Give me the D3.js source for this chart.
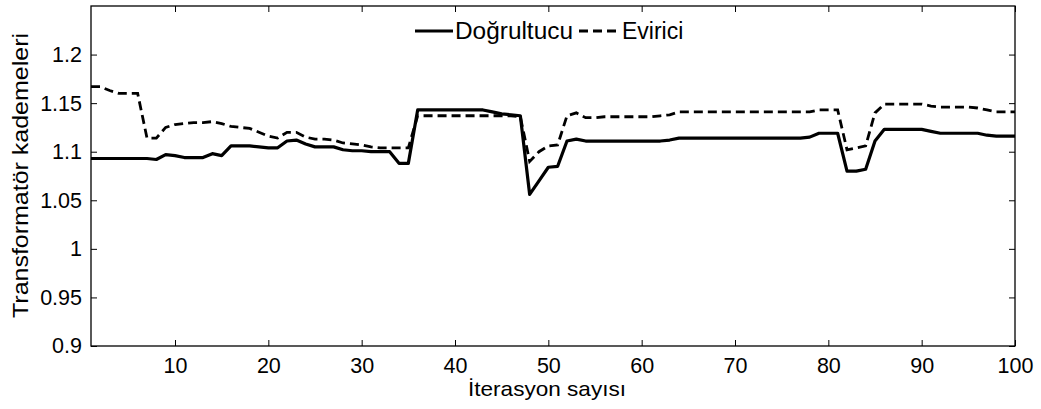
<!DOCTYPE html>
<html><head><meta charset="utf-8">
<script src="https://cdn.jsdelivr.net/npm/d3@7"></script>
<style>
html,body{margin:0;padding:0;background:#fff;}
svg text{font-family:"Liberation Sans",Arial,sans-serif;fill:#000;}
</style></head>
<body><svg id="c" width="1041" height="409"></svg>
<script>
const iterations = d3.range(1, 101);
const dogrultucu = [
1.093,1.093,1.093,1.093,1.093,1.093,1.093,1.092,1.097,1.096,
1.094,1.094,1.094,1.098,1.096,1.106,1.106,1.106,1.105,1.104,
1.104,1.111,1.112,1.108,1.105,1.105,1.105,1.102,1.101,1.101,
1.100,1.100,1.100,1.088,1.088,1.143,1.143,1.143,1.143,1.143,
1.143,1.143,1.143,1.141,1.139,1.138,1.137,1.056,1.070,1.084,
1.085,1.111,1.113,1.111,1.111,1.111,1.111,1.111,1.111,1.111,
1.111,1.111,1.112,1.114,1.114,1.114,1.114,1.114,1.114,1.114,
1.114,1.114,1.114,1.114,1.114,1.114,1.114,1.115,1.119,1.119,
1.119,1.080,1.080,1.082,1.111,1.123,1.123,1.123,1.123,1.123,
1.121,1.119,1.119,1.119,1.119,1.119,1.117,1.116,1.116,1.116];
const evirici = [
1.167,1.167,1.163,1.160,1.160,1.160,1.114,1.114,1.125,1.128,
1.129,1.130,1.130,1.131,1.129,1.126,1.125,1.124,1.120,1.116,
1.114,1.120,1.120,1.115,1.113,1.113,1.112,1.109,1.108,1.107,
1.105,1.104,1.104,1.104,1.104,1.137,1.137,1.137,1.137,1.137,
1.137,1.137,1.137,1.137,1.137,1.137,1.136,1.090,1.100,1.106,
1.107,1.137,1.140,1.135,1.135,1.136,1.136,1.136,1.136,1.136,
1.136,1.137,1.138,1.141,1.141,1.141,1.141,1.141,1.141,1.141,
1.141,1.141,1.141,1.141,1.141,1.141,1.141,1.141,1.143,1.143,
1.143,1.102,1.104,1.106,1.140,1.149,1.149,1.149,1.149,1.149,
1.147,1.146,1.146,1.146,1.146,1.145,1.143,1.141,1.141,1.141];
const xTicks = [10,20,30,40,50,60,70,80,90,100];
const yTicks = [0.9,0.95,1,1.05,1.1,1.15,1.2];
const yTickLabels = ["0.9","0.95","1","1.05","1.1","1.15","1.2"];
const seriesNames = ["Doğrultucu","Evirici"];
const xLabel = "İterasyon sayısı";
const yLabel = "Transformatör kademeleri";

const svg = d3.select("#c");
const L=91, R=1015, T=6, B=346;
const x = d3.scaleLinear().domain([1,100]).range([L,R]);
const y = d3.scaleLinear().domain([0.9,1.25]).range([B,T]);

const g = svg.append("g");
g.append("rect").attr("x",L).attr("y",T).attr("width",R-L).attr("height",B-T)
 .attr("fill","none").attr("stroke","#000").attr("stroke-width",1.3);

const fs = "21.5px";
const xb = g.append("g").attr("transform",`translate(0,${B})`)
 .call(d3.axisBottom(x).tickValues(xTicks).tickSizeInner(-6).tickSizeOuter(0).tickPadding(12));
const xt = g.append("g").attr("transform",`translate(0,${T})`)
 .call(d3.axisTop(x).tickValues(xTicks).tickSizeInner(-6).tickSizeOuter(0).tickFormat(""));
const yl = g.append("g").attr("transform",`translate(${L},0)`)
 .call(d3.axisLeft(y).tickValues(yTicks).tickSizeInner(-6).tickSizeOuter(0).tickPadding(9)
   .tickFormat((d,i)=>yTickLabels[i]));
const yr = g.append("g").attr("transform",`translate(${R},0)`)
 .call(d3.axisRight(y).tickValues(yTicks).tickSizeInner(-6).tickSizeOuter(0).tickFormat(""));
[xb,xt,yl,yr].forEach(a=>{
  a.select(".domain").remove();
  a.selectAll("line").attr("stroke","#000").attr("stroke-width",1);
  a.selectAll("text").style("font-size",fs).style("font-family","'Liberation Sans',Arial,sans-serif").attr("fill","#000");
});

const line = d3.line().x((d,i)=>x(iterations[i])).y(d=>y(d));
g.append("path").datum(dogrultucu).attr("d",line).attr("fill","none")
 .attr("stroke","#000").attr("stroke-width",3.2).attr("stroke-linejoin","round");
g.append("path").datum(evirici).attr("d",line).attr("fill","none")
 .attr("stroke","#000").attr("stroke-width",2.8).attr("stroke-dasharray","9,5");

// legend
const lg = g.append("g");
lg.append("line").attr("x1",415).attr("x2",453).attr("y1",31).attr("y2",31)
 .attr("stroke","#000").attr("stroke-width",3.2);
lg.append("text").attr("x",455).attr("y",39).style("font-size","23px")
 .attr("textLength",118).attr("lengthAdjust","spacingAndGlyphs").text(seriesNames[0]);
lg.append("line").attr("x1",579).attr("x2",618).attr("y1",31).attr("y2",31)
 .attr("stroke","#000").attr("stroke-width",2.8).attr("stroke-dasharray","9,5");
lg.append("text").attr("x",622).attr("y",39).style("font-size","23px").text(seriesNames[1]);

// axis labels
svg.append("text").attr("x",468).attr("y",396)
 .style("font-size","21px").attr("textLength",158).attr("lengthAdjust","spacingAndGlyphs").text(xLabel);
svg.append("text").attr("transform",`translate(28,318) rotate(-90)`)
 .style("font-size","21.5px").attr("textLength",285).attr("lengthAdjust","spacingAndGlyphs").text(yLabel);
</script></body></html>
